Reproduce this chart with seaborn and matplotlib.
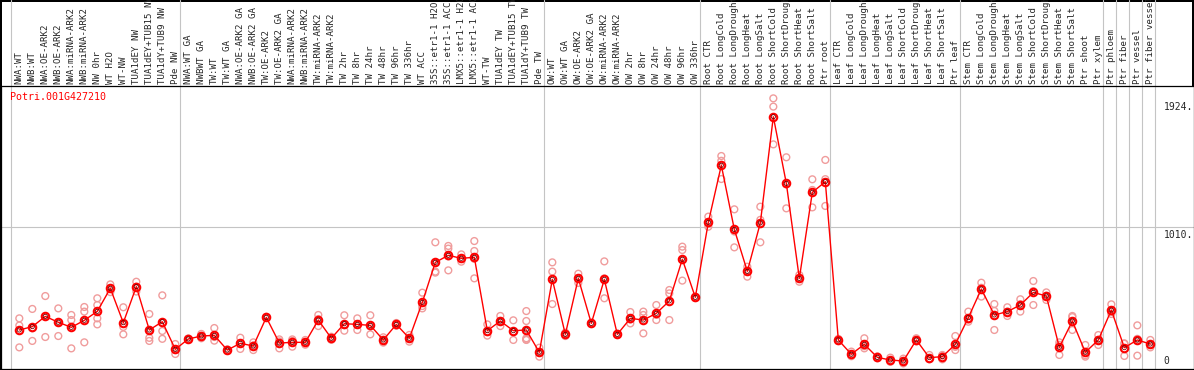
import numpy as np
import pandas as pd
import seaborn as sns
import matplotlib.pyplot as plt
from matplotlib import transforms

# Sample labels
labels = [
    "NWA:WT", "NWB:WT", "NWA:OE-ARK2", "NWB:OE-ARK2", "NWA:miRNA-ARK2", "NWB:miRNA-ARK2",
    "NW 0hr", "WT H2O", "WT-NW", "TUA1dEY NW", "TUA1dEY+TUB15 NW", "TUA1dY+TUB9 NW", "Pde NW",
    "NWA:WT GA", "NWBWT GA", "TW:WT", "TW:WT GA", "NWA:OE-ARK2 GA", "NWB:OE-ARK2 GA",
    "TW:OE-ARK2", "TW:OE-ARK2 GA", "NWA:miRNA-ARK2", "NWB:miRNA-ARK2", "TW:miRNA-ARK2",
    "TW:miRNA-ARK2", "TW 2hr", "TW 8hr", "TW 24hr", "TW 48hr", "TW 96hr", "TW 336hr",
    "WT ACC", "35S::etr1-1 H2O", "35S::etr1-1 ACC", "LMX5::etr1-1 H2O", "LMX5::etr1-1 ACC",
    "WT-TW", "TUA1dEY TW", "TUA1dEY+TUB15 TW", "TUA1dY+TUB9 TW", "Pde TW",
    "OW:WT", "OW:WT GA", "OW:OE-ARK2", "OW:OE-ARK2 GA", "OW:miRNA-ARK2", "OW:miRNA-ARK2",
    "OW 2hr", "OW 8hr", "OW 24hr", "OW 48hr", "OW 96hr", "OW 336hr",
    "Root CTR", "Root LongCold", "Root LongDrought", "Root LongHeat", "Root LongSalt",
    "Root ShortCold", "Root ShortDrought", "Root ShortHeat", "Root ShortSalt", "Ptr root",
    "Leaf CTR", "Leaf LongCold", "Leaf LongDrought", "Leaf LongHeat", "Leaf LongSalt",
    "Leaf ShortCold", "Leaf ShortDrought", "Leaf ShortHeat", "Leaf ShortSalt", "Ptr leaf",
    "Stem CTR", "Stem LongCold", "Stem LongDrought", "Stem LongHeat", "Stem LongSalt",
    "Stem ShortCold", "Stem ShortDrought", "Stem ShortHeat", "Stem ShortSalt", "Ptr shoot",
    "Ptr xylem", "Ptr phloem", "Ptr fiber", "Ptr vessel", "Ptr fiber vessel",
]

# number of samples in each experiment block (gray separators)
group_sizes = [13, 28, 12, 10, 10, 11, 1, 1, 1, 1]

# mean expression per sample
mean_expr = [
    278, 302, 375, 333, 297, 347, 411, 575, 330, 587, 278, 337, 140,
    214, 235, 240, 135, 183, 164, 368, 185, 190, 190, 349, 219, 323, 318, 311, 207, 318,
    219, 475, 760, 810, 789, 796, 273, 342, 273, 278, 119,
    639, 247, 646, 325, 639, 247, 361, 349, 397, 485, 782, 511,
    1045, 1452, 995, 696, 1041, 1798, 1323, 646, 1259, 1335,
    207, 105, 176, 83, 64, 57, 207, 81, 88, 176,
    366, 570, 385, 409, 456, 546, 520, 154, 342, 119, 207,
    420, 152, 207, 178,
]

# individual replicates per sample
replicates = [
    [361, 310, 154], [428, 290, 200], [520, 375, 228], [432, 333, 235], [385, 349, 147],
    [442, 409, 190], [504, 456, 361, 318], [603, 575, 548], [440, 300, 247], [622, 587, 552],
    [392, 278, 222, 200], [525, 271, 215], [178, 135, 107],
    [214, 210, 218], [250, 219, 236], [292, 228, 202], [140, 130, 135], [223, 183, 143],
    [190, 168, 135], [372, 365, 367], [211, 197, 147], [211, 200, 159], [207, 190, 173],
    [385, 356, 306], [230, 219, 208], [383, 313, 273], [361, 315, 278], [383, 303, 247],
    [226, 207, 188], [328, 318, 308], [243, 219, 195], [544, 449, 432],
    [903, 694, 687, 756], [877, 858, 703, 802], [817, 765, 785], [912, 841, 646, 785],
    [318, 263, 238], [378, 342, 306], [347, 265, 207], [413, 342, 219, 207, 210],
    [152, 117, 88],
    [760, 694, 463], [259, 247, 235], [679, 646, 613], [330, 325, 320], [767, 646, 504],
    [252, 247, 242], [406, 352, 325], [409, 385, 254], [456, 386, 349], [563, 539, 349],
    [872, 848, 630, 778], [516, 511, 506],
    [1086, 1035, 1014], [1518, 1484, 1354], [1138, 980, 867], [729, 700, 658],
    [1157, 1063, 903], [1929, 1870, 1601], [1509, 1315, 1145], [670, 646, 622],
    [1352, 1276, 1152], [1490, 1353, 1162],
    [215, 207, 199], [124, 100, 91], [219, 162, 147], [90, 83, 76], [81, 60, 51],
    [74, 57, 40], [219, 205, 197], [100, 74, 69], [100, 95, 69], [235, 158, 135],
    [409, 352, 337], [615, 579, 516], [463, 414, 278], [440, 409, 378], [497, 462, 409],
    [627, 555, 456], [546, 522, 492], [190, 172, 100], [378, 370, 278], [171, 98, 88],
    [242, 208, 171],
    [461, 407, 392], [183, 180, 93], [311, 215, 95], [207, 173, 154],
]

gene_id = "Potri.001G427210"
ytick_values = [0, 1010, 1924]
ytick_labels = ["0", "1010.", "1924."]

sns.set_style("white")
plt.rcParams["font.family"] = ["DejaVu Sans Mono"]

pos = np.arange(len(labels))
mean_df = pd.DataFrame({"pos": pos, "expr": mean_expr})
rep_df = pd.DataFrame(
    [(i, v) for i, reps in enumerate(replicates) for v in reps], columns=["pos", "expr"]
)

fig = plt.figure(figsize=(11.94, 3.70), dpi=100)
fig.patch.set_edgecolor("black")
fig.patch.set_linewidth(1.5)
ax = fig.add_axes([1 / 1194, 1 / 370, 1192.5 / 1194, 283 / 370])

# block separators, reaching up through the label header
bounds = np.concatenate([[0], np.cumsum(group_sizes)]) - 0.66
for b in bounds:
    ax.axvline(b, ymin=0, ymax=1 + 86 / 283, color="#c4c4c4", lw=0.8,
               clip_on=False, zorder=0)
ax.axhline(1010, color="#c4c4c4", lw=0.8, zorder=0)

# replicates
sns.scatterplot(data=rep_df, x="pos", y="expr", ax=ax, marker="o", s=24,
                color="#f09c9c", facecolor="none", edgecolor="#f09c9c",
                linewidth=1.0, zorder=2)

# mean line
sns.lineplot(data=mean_df, x="pos", y="expr", ax=ax, color="red", lw=1,
             marker="o", markersize=5.4, markerfacecolor="none",
             markeredgecolor="red", markeredgewidth=1.5, sort=False,
             errorbar=None, zorder=3)
sns.scatterplot(data=mean_df, x="pos", y="expr", ax=ax, marker="o", s=9,
                color="#700000", facecolor="none", edgecolor="#700000",
                linewidth=0.6, zorder=4)

ax.set_xlim(-1.408, 90.32)
ax.set_ylim(0, 2017)

# sample names on top, rotated
ax.xaxis.tick_top()
ax.set_xticks(pos, labels, rotation=90, fontsize=6.6)
ax.tick_params(axis="x", length=0, pad=1.8)
ax.set_yticks([])
ax.set_xlabel("")
ax.set_ylabel("")

for s in ax.spines.values():
    s.set_color("black")
    s.set_linewidth(0.9)

# value labels on the right, inside the plot
base = transforms.blended_transform_factory(ax.transAxes, ax.transData)
for v, t in zip(ytick_values, ytick_labels):
    if v == 0:
        tr = transforms.offset_copy(base, fig=fig, y=3, units="dots")
        va = "bottom"
    else:
        tr = transforms.offset_copy(base, fig=fig, y=-3, units="dots")
        va = "top"
    ax.text(0.975, v, t, transform=tr, va=va, ha="left", fontsize=7)

ax.text(0.0075, 0.98, gene_id, transform=ax.transAxes, color="red",
        fontsize=7.2, va="top", ha="left")

fig.savefig("out.png", dpi=100)
